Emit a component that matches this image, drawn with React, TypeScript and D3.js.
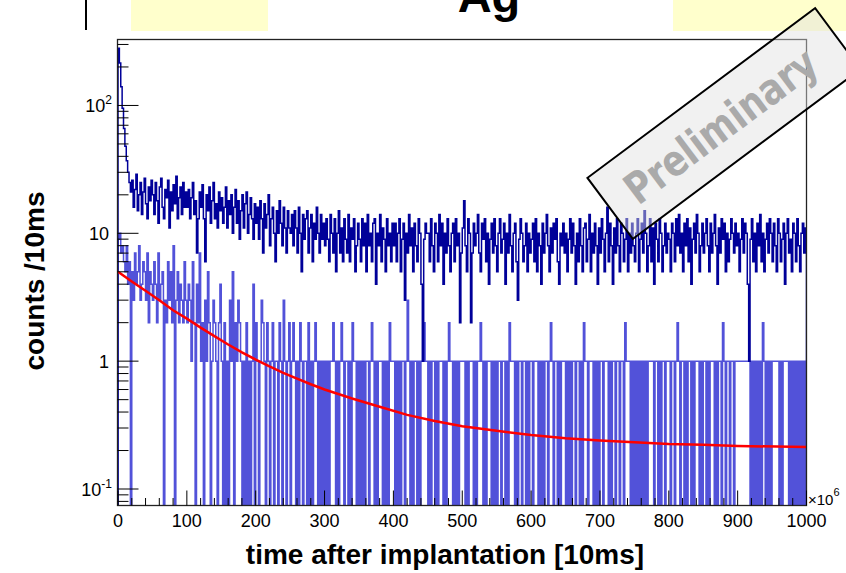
import React from "react";
import * as d3 from "d3";

// ---- data ----
const binWidth = 2; // units of 10 ms per drawn bin
const darkCounts = [
  280,215,140,95,66,48,37,30,25,21,26,16,22,29,15,20,25,14,21,27,17,13,23,18,26,
  20,14,25,18,12,23,27,16,13,22,19,26,11,21,15,24,17,28,13,19,23,14,25,16,21,
  16,22,13,19,25,14,18,7,13,21,16,24,13,6,20,15,23,12,18,25,13,17,11,21,15,
  19,12,16,23,11,18,14,20,10,16,22,12,18,9,15,20,11,17,21,10,14,19,13,9,17,
  12,16,9,18,13,7,17,11,14,20,8,13,16,10,6,15,10,18,12,8,16,11,7,15,11,
  10,14,8,15,11,7,16,10,5,14,9,13,15,7,11,14,6,12,9,16,10,7,14,9,12,
  8,13,9,6,14,10,7,13,5,10,15,7,11,6,13,9,7,14,6,11,9,13,5,8,12,
  9,6,13,8,12,5,14,8,10,6,12,13,4,10,8,14,6,11,9,5,13,8,10,6,12,
  8,12,6,10,13,5,9,12,3,10,7,14,8,11,5,12,8,6,13,10,4,1,9,12,10,
  10,6,13,8,5,12,10,6,14,8,12,4,10,7,13,8,5,10,12,6,13,8,10,2,7,
  11,18,8,5,13,10,2,7,12,8,10,14,7,5,12,9,13,6,10,4,9,12,7,13,8,
  5,10,13,7,9,12,4,10,7,14,8,5,10,12,6,3,9,13,10,6,8,12,5,10,7,
  9,12,6,13,5,10,8,4,12,7,10,14,8,5,11,7,12,9,13,6,4,10,8,12,7,
  10,5,9,13,7,12,8,4,10,6,13,8,5,11,12,6,9,14,5,10,7,12,8,4,11,
  7,13,9,5,10,16,6,12,8,4,11,7,13,8,5,12,10,6,9,13,5,10,7,12,8,
  6,10,13,5,9,12,7,15,10,5,8,13,6,11,4,12,9,6,13,10,5,8,12,7,10,
  9,5,12,10,6,13,8,14,7,10,5,12,8,13,6,11,4,9,12,7,14,10,5,8,12,
  7,10,13,8,5,12,7,10,14,8,4,11,7,13,9,12,5,10,6,9,13,10,7,12,8,
  10,5,9,13,7,12,10,4,1,9,13,6,10,5,12,8,14,6,10,5,9,12,7,13,10,
  6,12,8,5,13,10,6,9,12,4,10,13,7,9,5,12,10,6,13,8,5,10,12,7,11,
];
const lightCounts = [
  9,10,7,8,6,5,8,4,6,0,5,3,7,4,5,8,3,4,6,5,3,7,2,5,4,
  3,6,4,2,7,3,4,5,0,3,2,6,3,5,2,8,0,3,5,2,4,3,2,6,3,
  2,4,3,1,6,2,0,4,2,7,1,2,0,3,1,5,2,0,1,3,2,1,0,2,4,
  1,0,2,0,1,0,3,1,5,0,2,1,3,2,1,0,1,0,2,0,1,0,1,4,0,
  2,1,0,1,3,2,1,0,2,1,0,1,2,0,1,1,0,2,1,0,3,1,0,1,2,
  0,1,2,1,0,1,0,2,1,0,1,1,0,2,0,1,0,1,2,1,0,1,0,1,0,
  1,0,1,0,1,1,2,1,0,1,0,1,2,1,0,1,1,0,1,0,2,1,1,0,1,
  0,1,0,1,0,1,1,0,1,2,1,0,1,0,1,1,1,0,1,0,1,0,2,1,1,
  1,0,1,0,1,0,1,1,0,1,3,1,0,1,0,1,1,0,1,0,1,1,2,1,1,
  0,1,0,1,1,0,1,0,1,1,1,0,1,0,1,2,1,1,0,1,0,1,0,1,1,
  1,1,0,1,0,1,1,1,0,1,0,1,1,2,1,0,1,0,1,1,1,0,1,0,1,
  0,1,1,0,1,1,0,1,0,2,1,1,1,0,1,0,1,1,0,1,1,0,1,0,1,
  1,0,1,1,1,0,1,0,1,0,1,1,0,1,2,1,0,1,1,0,1,0,1,1,1,
  0,1,0,1,0,1,1,0,1,1,0,1,0,2,1,1,0,1,1,1,0,1,0,1,0,
  1,1,0,1,1,1,0,1,0,1,1,0,1,1,0,1,1,0,2,1,1,1,0,1,0,
  1,0,1,0,1,0,1,0,1,0,1,1,1,1,0,1,1,0,1,0,1,1,0,1,1,
  1,0,1,1,0,1,2,1,0,1,1,0,1,0,1,1,0,1,0,1,1,1,0,1,0,
  1,1,0,1,0,1,1,1,0,1,0,1,1,0,2,1,0,1,1,0,1,1,0,1,1,
  1,1,1,1,1,1,1,1,1,0,1,0,1,0,1,0,1,0,2,1,0,1,0,1,0,
  1,1,1,1,1,0,1,0,1,1,1,1,0,1,0,1,0,1,0,1,0,1,0,1,0,
];
const fitT = [0,20,40,60,80,100,120,140,160,180,200,220,240,260,280,300,340,380,420,460,500,550,600,650,700,750,800,850,900,1000];
const fitV = [5.0,4.2,3.55,3.0,2.5,2.15,1.83,1.57,1.35,1.17,1.03,0.91,0.81,0.73,0.66,0.60,0.51,0.44,0.38,0.34,0.31,0.285,0.265,0.25,0.24,0.232,0.225,0.222,0.217,0.213];
const xTicks = [0,100,200,300,400,500,600,700,800,900,1000];
const yMajor = [0.1, 1, 10, 100];
const yLabels = [["10", "-1"], ["1", ""], ["10", ""], ["10", "2"]];
const title = "Ag";
const xTitle = "time after implantation [10ms]";
const yTitle = "counts /10ms";
const stamp = "Preliminary";

const W = 846, H = 573;
const L = 117.5, R = 806.5, T = 39.5, B = 505.5;
const xs = d3.scaleLinear().domain([0, 1000]).range([118, R]);
const ys = d3.scaleLog().domain([0.0743, 328]).range([B, T]);

function histPath(vals: number[]) {
  const p = d3.path();
  const low = B + 5;
  p.moveTo(xs(0), low);
  vals.forEach((v, i) => {
    const y = v > 0 ? ys(v) : low;
    p.lineTo(xs(i * binWidth), y);
    p.lineTo(xs((i + 1) * binWidth), y);
  });
  p.lineTo(xs(vals.length * binWidth), low);
  return p.toString();
}

export default function App() {
  const font = "'Liberation Sans', Arial, Helvetica, sans-serif";
  const minorY: number[] = [];
  for (let e = -2; e <= 2; e++) for (let k = 2; k <= 9; k++) {
    const v = k * Math.pow(10, e);
    if (v > 0.0743 && v < 328) minorY.push(v);
  }
  const minorX = d3.range(0, 1001, 20).filter((v) => v % 100 !== 0);
  const fitLine = d3.line<number>().x((_, i) => xs(fitT[i])).y((v) => ys(v));
  const cx = 724, cy = 123.5, ang = -36.7;
  return (
    <svg width={W} height={H} style={{ position: "fixed", left: 0, top: 0, background: "#fff" }} fontFamily={font}>
      <defs>
        <clipPath id="plot"><rect x={L} y={T} width={R - L} height={B - T} /></clipPath>
      </defs>
      <rect x={0} y={0} width={W} height={H} fill="#fff" />
      <rect x={131} y={0} width={137} height={31} fill="#ffffcc" />
      <rect x={673} y={0} width={173} height={31} fill="#ffffcc" />
      <line x1={86} y1={0} x2={86} y2={30} stroke="#000" strokeWidth={2} />
      <text x={489} y={12} textAnchor="middle" fontSize={47} fontWeight="bold">{title}</text>

      <g clipPath="url(#plot)">
        <path d={histPath(lightCounts)} fill="none" stroke="#5252d9" strokeWidth={1.5} />
        <path d={histPath(darkCounts)} fill="none" stroke="#000099" strokeWidth={1.5} />
        <path d={fitLine(fitV) || ""} fill="none" stroke="#ff0000" strokeWidth={2.5} />
      </g>

      <rect x={L} y={T} width={R - L} height={B - T} fill="none" stroke="#222" strokeWidth={1.3} />

      {yMajor.map((v) => (
        <line key={"ym" + v} x1={L} x2={L + 21} y1={ys(v)} y2={ys(v)} stroke="#000" />
      ))}
      {minorY.map((v) => (
        <line key={"yn" + v} x1={L} x2={L + 11} y1={ys(v)} y2={ys(v)} stroke="#000" />
      ))}
      {yMajor.map((v, i) => (
        <text key={"yl" + v} x={yLabels[i][1] ? 112 : 109} y={ys(v) + 6.5} textAnchor="end" fontSize={18}>
          {yLabels[i][0]}
          {yLabels[i][1] ? (
            <tspan fontSize={12} dy={-8}>{yLabels[i][1]}</tspan>
          ) : null}
        </text>
      ))}

      {xTicks.map((v) => (
        <line key={"xm" + v} x1={xs(v)} x2={xs(v)} y1={B} y2={B - 15} stroke="#000" />
      ))}
      {minorX.map((v) => (
        <line key={"xn" + v} x1={xs(v)} x2={xs(v)} y1={B} y2={B - 7.5} stroke="#000" />
      ))}
      {xTicks.map((v) => (
        <text key={"xl" + v} x={xs(v)} y={527} textAnchor="middle" fontSize={18}>{v}</text>
      ))}
      <text x={808} y={505} fontSize={15}>
        ×10<tspan fontSize={11} dy={-9}>6</tspan>
      </text>

      <text x={445} y={564} textAnchor="middle" fontSize={28} fontWeight="bold">{xTitle}</text>
      <text transform="translate(44,281) rotate(-90)" textAnchor="middle" fontSize={28} fontWeight="bold">{yTitle}</text>

      <g transform={`translate(${cx},${cy}) rotate(${ang})`}>
        <rect x={-142} y={-38} width={284} height={76} fill="rgb(225,225,225)" fillOpacity={0.45} stroke="#000" strokeWidth={2} />
        <text x={-4} y={15} textAnchor="middle" fontSize={43} fontWeight="bold" fill="#aaaaaa"
          fontFamily="'DejaVu Sans', Verdana, sans-serif" textLength={228} lengthAdjust="spacingAndGlyphs">{stamp}</text>
      </g>
    </svg>
  );
}
